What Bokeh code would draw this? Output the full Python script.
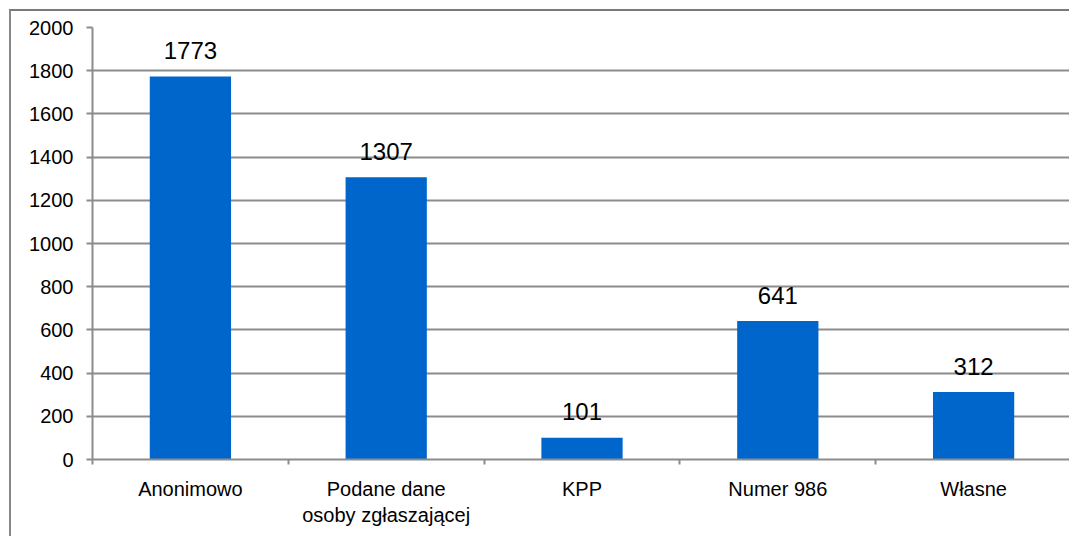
from bokeh.plotting import figure
from bokeh.models import FixedTicker, ColumnDataSource, Range1d
from bokeh.core.properties import value
from bokeh.embed import file_html
from bokeh.resources import INLINE

categories = ["Anonimowo", "Podane dane\nosoby zgłaszającej", "KPP", "Numer 986", "Własne"]
values = [1773, 1307, 101, 641, 312]
y_ticks = [0, 200, 400, 600, 800, 1000, 1200, 1400, 1600, 1800, 2000]

positions = [i + 0.5 for i in range(len(categories))]
boundaries = [i for i in range(len(categories) + 1)]

FONT = "Liberation Sans"
GRAY = "#8c8c8c"

src = ColumnDataSource(dict(x=positions, top=values, label=[str(v) for v in values]))

p = figure(width=1058, height=525, output_backend="svg", toolbar_location=None,
           x_range=Range1d(0, len(categories)), y_range=Range1d(0, 2000),
           min_border_left=81, min_border_right=0, min_border_top=16, min_border_bottom=79)
p.styles = {"margin-left": "9px", "margin-top": "9px",
            "border-top": "2px solid #7a7a7a", "border-left": "2px solid #888888",
            "box-sizing": "content-box"}
p.outline_line_color = None
p.background_fill_color = "white"
p.border_fill_color = "white"

p.vbar(x="x", top="top", width=0.415, bottom=0, source=src, color="#0066CC", line_color=None)
p.text(x="x", y="top", text="label", source=src, text_align="center",
       text_baseline="alphabetic", y_offset=-26, text_font=value(FONT),
       text_font_size="24px", text_color="black")

# x axis
p.xaxis.ticker = FixedTicker(ticks=positions, minor_ticks=boundaries)
p.xaxis.major_label_overrides = {pos: cat for pos, cat in zip(positions, categories)}
p.xaxis.major_tick_line_color = None
p.xaxis.major_tick_out = 0
p.xaxis.major_tick_in = 0
p.xaxis.minor_tick_line_color = GRAY
p.xaxis.minor_tick_line_width = 2
p.xaxis.minor_tick_out = 5
p.xaxis.minor_tick_in = 0
p.xaxis.axis_line_color = GRAY
p.xaxis.axis_line_width = 2
p.xaxis.major_label_text_font = FONT
p.xaxis.major_label_text_font_size = "20px"
p.xaxis.major_label_text_color = "black"
p.xaxis.major_label_standoff = 13

# y axis
p.yaxis.ticker = FixedTicker(ticks=y_ticks)
p.yaxis.minor_tick_line_color = None
p.yaxis.major_tick_line_color = GRAY
p.yaxis.major_tick_line_width = 2
p.yaxis.major_tick_out = 6
p.yaxis.major_tick_in = 0
p.yaxis.axis_line_color = GRAY
p.yaxis.axis_line_width = 2
p.yaxis.major_label_text_font = FONT
p.yaxis.major_label_text_font_size = "20px"
p.yaxis.major_label_text_color = "black"
p.yaxis.major_label_standoff = 13

p.xgrid.grid_line_color = None
p.ygrid.ticker = FixedTicker(ticks=y_ticks)
p.ygrid.grid_line_color = GRAY
p.ygrid.grid_line_width = 2

open("out.html", "w").write(file_html(p, INLINE))
